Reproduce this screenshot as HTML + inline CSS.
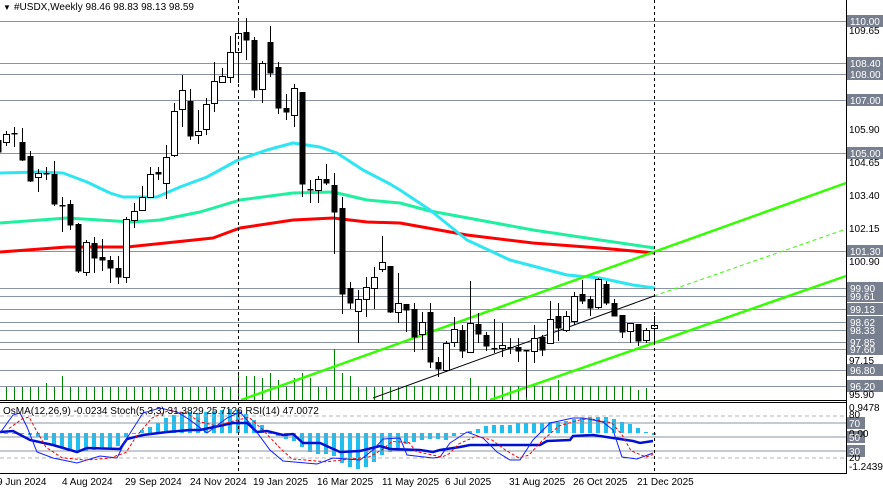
<!DOCTYPE html>
<html><head><meta charset="utf-8"><style>
html,body{margin:0;padding:0;background:#fff;width:883px;height:493px;overflow:hidden}
svg{display:block;font-family:"Liberation Sans",sans-serif;font-size:10px}
</style></head><body>
<svg id="s" width="883" height="493" viewBox="0 0 883 493" xmlns="http://www.w3.org/2000/svg">
<rect width="883" height="493" fill="#fff"/>
<g id="hl"></g>
<g id="vol"></g>
<g id="osma"></g>
<line x1="0" y1="416" x2="846" y2="416" stroke="#b4b4b4" stroke-dasharray="4,3"/>
<line x1="0" y1="458" x2="846" y2="458" stroke="#b4b4b4" stroke-dasharray="4,3"/>
<line x1="0" y1="423" x2="846" y2="423" stroke="#8a93a6"/>
<line x1="0" y1="437" x2="846" y2="437" stroke="#8a93a6"/>
<line x1="0" y1="451" x2="846" y2="451" stroke="#8a93a6"/>
<polyline fill="none" stroke="#ff0000" stroke-width="3" stroke-linejoin="round" points="0,252 67,247 127,247 213,238 240,228 293,220 333,218 367,222 400,223 467,235 533,243 600,248 655,253"/>
<polyline fill="none" stroke="#1ef0a0" stroke-width="3" stroke-linejoin="round" points="0,223 67,218 133,222 160,220 200,212 240,200 293,193 333,192 367,200 400,203 430,211 533,230 600,240 655,248"/>
<polyline fill="none" stroke="#2ee6f2" stroke-width="3" stroke-linejoin="round" points="0,173 40,172 63,173 87,182 110,193 123,197 157,197 180,187 207,177 238,160 267,150 293,143 320,147 337,153 363,170 390,184 400,190 430,210 467,240 510,260 567,275 600,278 633,285 655,288"/>
<line x1="241" y1="400" x2="846" y2="183" stroke="#33ff00" stroke-width="2.5"/>
<line x1="490" y1="400" x2="846" y2="276" stroke="#33ff00" stroke-width="2.5"/>
<line x1="373" y1="398" x2="654" y2="296" stroke="#000" stroke-width="1"/>
<line x1="654" y1="296" x2="846" y2="229" stroke="#33ff00" stroke-width="1" stroke-dasharray="4,3"/>
<g id="cnd"></g>
<line x1="238.5" y1="0" x2="238.5" y2="473" stroke="#000" stroke-dasharray="3,3"/>
<line x1="654.5" y1="0" x2="654.5" y2="473" stroke="#000" stroke-dasharray="3,3"/>
<polyline id="rsi" fill="none" stroke="#0010d0" stroke-width="2.5" points="0,432 13,431 30,440 53,445 77,452 87,448 120,449 127,439 143,435 167,432 190,430 200,430 233,423 247,423 257,432 267,431 283,435 293,434 303,443 320,443 340,452 360,451 380,446 390,449 420,450 433,452 440,450 460,447 470,445 540,445 547,441 570,440 573,436 593,435 613,438 633,441 640,443 653,441"/>
<polyline id="st" fill="none" stroke="#1020ff" stroke-width="1" points="0,433 13,415 20,413 27,427 37,452 53,458 77,463 100,456 117,458 127,438 143,413 160,408 177,412 190,420 207,433 227,418 240,412 253,427 270,450 283,461 317,464 333,458 360,460 373,450 383,439 400,438 407,455 433,458 440,457 450,443 467,432 483,438 497,452 510,460 520,460 533,440 550,423 573,418 583,418 603,422 613,430 622,457 637,459 653,453"/>
<polyline id="sg" fill="none" stroke="#ff0000" stroke-width="1" stroke-dasharray="3,2"/>
<line x1="0" y1="400.5" x2="846" y2="400.5" stroke="#000"/>
<line x1="0" y1="402.5" x2="846" y2="402.5" stroke="#000"/>
<line x1="0" y1="473.5" x2="846" y2="473.5" stroke="#000"/>
<line x1="846.5" y1="0" x2="846.5" y2="474" stroke="#000"/>
<g id="lab"></g>
<g fill="#000">
<text x="849" y="34">109.65</text>
<text x="849" y="133">105.90</text>
<text x="849" y="166">104.65</text>
<text x="849" y="199">103.40</text>
<text x="849" y="232">102.15</text>
<text x="849" y="265">100.90</text>
<text x="849" y="364">97.15</text>
<text x="849" y="398">95.90</text>
<text x="849" y="411">0.9478</text>
<text x="849" y="418">80</text>
<text x="849" y="437">0.00</text>
<text x="849" y="461">20</text>
<text x="849" y="470">-1.2439</text>
</g>
<g id="lab2"></g>
<text x="3" y="10" font-size="8">▼</text>
<text x="14" y="10">#USDX,Weekly  98.46 98.83 98.13 98.59</text>
<text x="3" y="414">OsMA(12,26,9) -0.0234  Stoch(5,3,3) 31.3829 25.7126  RSI(14) 47.0072</text>
<g fill="#000">
<text x="-3" y="485">9 Jun 2024</text>
<text x="62" y="485">4 Aug 2024</text>
<text x="125" y="485">29 Sep 2024</text>
<text x="190" y="485">24 Nov 2024</text>
<text x="253" y="485">19 Jan 2025</text>
<text x="317" y="485">16 Mar 2025</text>
<text x="382" y="485">11 May 2025</text>
<text x="445" y="485">6 Jul 2025</text>
<text x="509" y="485">31 Aug 2025</text>
<text x="573" y="485">26 Oct 2025</text>
<text x="637" y="485">21 Dec 2025</text>
</g>
</svg>
<script>
var NS="http://www.w3.org/2000/svg";
function el(p,t,a){var e=document.createElementNS(NS,t);for(var k in a)e.setAttribute(k,a[k]);document.getElementById(p).appendChild(e);return e;}
function Y(p){return 21+(110-p)*26.45;}
var lv=[110,108.4,108,107,105,101.3,99.9,99.61,99.13,98.62,98.33,97.85,97.6,96.8,96.2];
lv.forEach(function(p){var y=Math.round(Y(p))+0.5;el("hl","line",{x1:0,y1:y,x2:846,y2:y,stroke:"#8a93a6"});});
var lt=["110.00","108.40","108.00","107.00","105.00","101.30","99.90","99.61","99.13","98.62","98.33","97.85","97.60","96.80","96.20"];
lv.forEach(function(p,i){var y=Math.round(Y(p));el("lab","rect",{x:847,y:y-6,width:36,height:12,fill:"#78808f"});});
lv.forEach(function(p,i){var y=Math.round(Y(p));var t=el("lab2","text",{x:850,y:y+4,fill:"#fff"});t.textContent=lt[i];});
[[423,"70"],[437,"50"],[451,"30"]].forEach(function(a){el("lab","rect",{x:847,y:a[0]-6,width:18,height:12,fill:"#78808f"});var t=el("lab2","text",{x:849,y:a[0]+4,fill:"#fff"});t.textContent=a[1];});
var C=[[134,142,131,146,1],[133,133,127,147,0],[142,160,128,161,0],[156,181,151,182,0],[173,177,169,192,1],[173,173,167,180,0],[174,204,161,206,0],[205,205,197,232,0],[204,225,200,230,0],[224,271,223,273,0],[242,272,240,276,1],[243,258,237,273,0],[257,260,239,271,0],[260,268,256,283,0],[268,277,256,284,0],[219,277,217,283,1],[211,220,203,228,1],[197,210,186,211,1],[174,197,167,197,1],[172,174,167,180,0],[157,183,145,199,1],[111,155,103,157,1],[90,109,75,127,1],[101,136,89,140,0],[131,135,110,144,1],[104,129,98,135,1],[81,103,62,112,1],[76,82,68,83,1],[52,77,36,83,1],[33,52,22,83,1],[32,40,18,60,0],[40,90,37,98,0],[63,89,61,103,1],[42,73,26,77,0],[67,108,62,114,0],[108,112,94,120,0],[88,115,84,127,1],[92,184,92,197,0],[189,189,180,203,0],[179,190,176,203,1],[179,183,164,185,0],[185,212,173,254,0],[208,294,197,314,0],[288,303,282,309,0],[299,311,290,343,1],[287,299,277,317,1],[277,288,267,309,1],[262,269,236,272,1],[266,312,266,313,0],[303,312,273,323,1],[304,310,304,332,0],[309,337,303,352,0],[322,334,312,350,1],[312,362,303,368,0],[362,369,357,377,0],[343,370,341,372,1],[329,342,317,347,1],[330,351,325,358,0],[323,352,281,353,1],[324,334,313,343,0],[335,346,332,351,0],[348,348,319,353,0],[345,348,323,357,1],[347,347,338,354,0],[347,351,338,362,0],[350,350,350,397,0],[338,351,325,363,1],[337,350,335,356,0],[319,343,301,343,1],[316,328,303,341,0],[316,330,311,332,1],[296,321,292,325,1],[294,301,280,304,0],[299,308,296,316,0],[279,307,278,309,1],[284,303,281,305,0],[303,316,299,316,0],[315,332,315,338,0],[323,331,323,343,1],[324,341,324,346,0],[330,340,328,343,1],[325,328,316,343,1]];
C.unshift([140,152,136,158,0]);
C.forEach(function(c,j){var i=j-1;var x=6+8*i;
 el("cnd","line",{x1:x+0.5,y1:c[2],x2:x+0.5,y2:c[3],stroke:"#000"});
 var h=Math.max(1,c[1]-c[0]);
 if(c[4])el("cnd","rect",{x:x-2.5,y:c[0]+0.5,width:6,height:h,fill:"#fff",stroke:"#000"});
 else el("cnd","rect",{x:x-2.5,y:c[0],width:6,height:h+0.5,fill:"#000"});
});
var VT={5:383,7:376,29:375,30:376,31:376,32:378,33:373,34:380,36:378,37:373,38:378,41:349,42:373,43:376,58:378,69:380,79:390,80:388};
for(var i=-1;i<=80;i++){var x=6+8*i+0.5;var t=VT[i]||(i>=50?386:387);el("vol","line",{x1:x,y1:t,x2:x,y2:400,stroke:"#008000"});}
var O=[433,434,434,435,437,440,445,448,450,451,451,450,449,448,446,437,433,430,427,423,418,415,412,412,413,412,411,410,409,410,414,420,425,433,436,439,441,447,452,454,454,456,463,467,469,467,462,455,452,448,444,442,440,439,439,440,436,433,431,429,426,425,425,425,423,423,423,423,422,422,421,419,418,417,417,417,419,422,424,428,432,435];
O.forEach(function(v,i){var x=6+8*i-2;var a=Math.min(v,433),b=Math.max(v,433);el("osma","rect",{x:x,y:a,width:4,height:Math.max(1,b-a),fill:"#20bff0"});});
var p=document.getElementById("st").getAttribute("points").split(" ").map(function(s){var q=s.split(",");return [+q[0]+9,+q[1]];});
var sm=p.map(function(q,i){var a=p[Math.max(0,i-1)][1],b=p[Math.min(p.length-1,i+1)][1];return [Math.min(q[0],653),(a+2*q[1]+b)/4];});
document.getElementById("sg").setAttribute("points",sm.map(function(q){return q[0]+","+q[1].toFixed(1);}).join(" "));
</script>
</body></html>
